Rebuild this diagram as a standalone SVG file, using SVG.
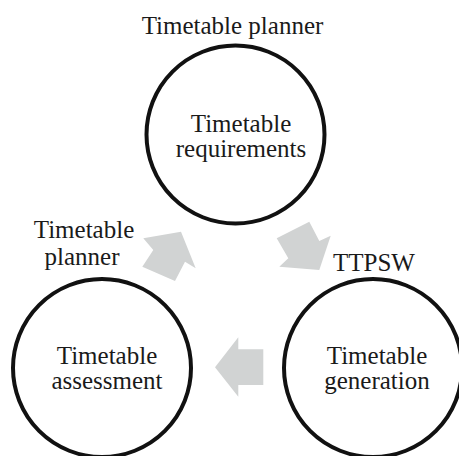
<svg xmlns="http://www.w3.org/2000/svg" width="459" height="456" viewBox="0 0 459 456">
  <style>
    .ring { fill: none; stroke: #111; stroke-width: 4; }
    .lbl { font-family: "Liberation Serif", "Times New Roman", serif; font-size: 25px; fill: #1a1a1a; text-anchor: middle; }
    .flow { fill: #d1d3d3; stroke: none; }
  </style>
  <rect width="459" height="456" fill="#fff"/>

  <!-- cycle arrows -->
  <g id="connectors">
    <polygon class="flow" points="143.3,238.3 181,231.7 195.7,268.3 185,261.7 175,281 142.3,266.7 153.3,250"/>
    <polygon class="flow" points="276.7,238.3 309.3,221.7 319.3,241 330.7,235.7 319.3,270 279.3,266.7 288.3,258.3"/>
    <polygon class="flow" points="215,367.3 238.3,337.3 238.3,349.3 263.3,349.3 263.3,385 238.3,385 238.3,396.7"/>
  </g>

  <g id="requirements">
    <circle class="ring" cx="235.5" cy="134.5" r="89"/>
    <text class="lbl" x="241" y="131.5">Timetable</text>
    <text class="lbl" x="241" y="156.5">requirements</text>
  </g>

  <g id="generation">
    <circle class="ring" cx="373" cy="368" r="89"/>
    <text class="lbl" x="377" y="363.5">Timetable</text>
    <text class="lbl" x="377" y="388.5">generation</text>
  </g>

  <g id="assessment">
    <circle class="ring" cx="102" cy="368" r="89"/>
    <text class="lbl" x="107" y="363.5">Timetable</text>
    <text class="lbl" x="107" y="388.5">assessment</text>
  </g>

  <g id="actor-labels">
    <text class="lbl" x="232.5" y="34">Timetable planner</text>
    <text class="lbl" x="84" y="238">Timetable</text>
    <text class="lbl" x="82" y="265">planner</text>
    <text class="lbl" x="374" y="271">TTPSW</text>
  </g>
</svg>
